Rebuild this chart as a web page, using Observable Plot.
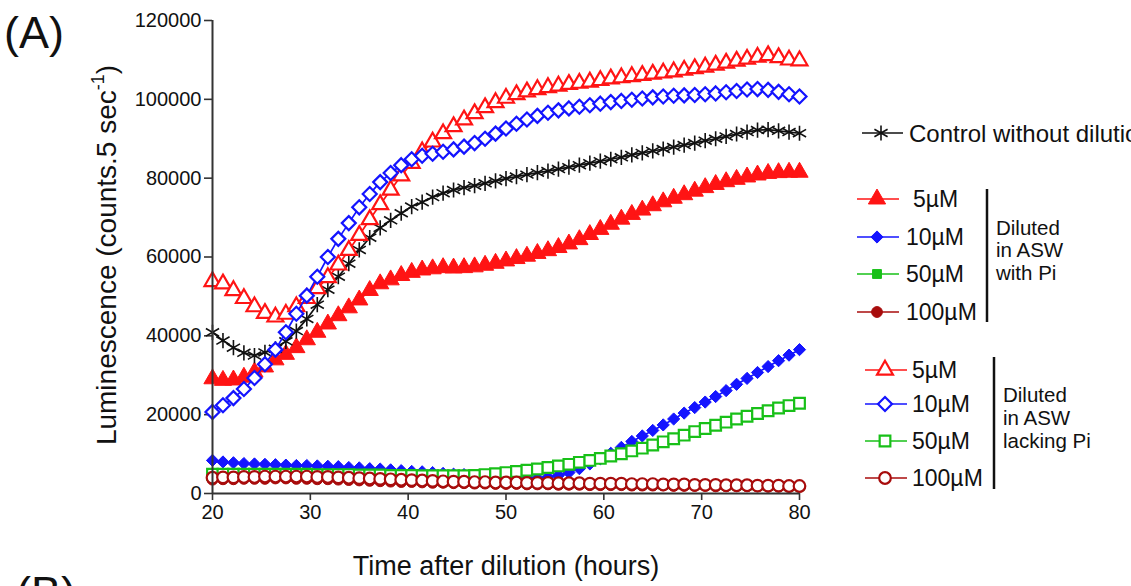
<!DOCTYPE html>
<html>
<head>
<meta charset="utf-8">
<script src="https://cdn.jsdelivr.net/npm/d3@7"></script>
<script src="https://cdn.jsdelivr.net/npm/@observablehq/plot@0.6"></script>
<style>
  body { margin: 0; background: #fff; }
  svg { display: block; }
</style>
</head>
<body>
<div id="chart"></div>
<script>
// Sampling times (hours after dilution)
const hours = [20, 21.07, 22.14, 23.21, 24.29, 25.36, 26.43, 27.5, 28.57, 29.64,
  30.71, 31.79, 32.86, 33.93, 35, 36.07, 37.14, 38.21, 39.29, 40.36,
  41.43, 42.5, 43.57, 44.64, 45.71, 46.79, 47.86, 48.93, 50, 51.07,
  52.14, 53.21, 54.29, 55.36, 56.43, 57.5, 58.57, 59.64, 60.71, 61.79,
  62.86, 63.93, 65, 66.07, 67.14, 68.21, 69.29, 70.36, 71.43, 72.5,
  73.57, 74.64, 75.71, 76.79, 77.86, 78.93, 80];

// Luminescence (counts.5 sec-1)
const control = [40900, 38800, 37000, 35700, 35000, 35800, 36700, 38600, 41200, 44300,
  47900, 51700, 55000, 58300, 61800, 64900, 67400, 69300, 71100, 72800,
  73900, 75200, 76200, 77000, 77600, 78100, 78700, 79300, 79900, 80400,
  80900, 81400, 81800, 82300, 82800, 83300, 83800, 84300, 84800, 85300,
  85900, 86400, 86900, 87400, 87900, 88400, 88900, 89500, 90000, 90600,
  91200, 91700, 92200, 92300, 92000, 91700, 91400];

const withPi5 = [29100, 28700, 28800, 29500, 30800, 32100, 33900, 35300, 37000, 39000,
  40900, 43000, 45100, 47100, 49100, 51500, 53200, 54200, 55300, 56100,
  56700, 57000, 57300, 57200, 57300, 57500, 57900, 58400, 59000, 59600,
  60200, 60900, 61600, 62400, 63300, 64400, 65700, 67000, 68300, 69600,
  70800, 71900, 73000, 74000, 74900, 75800, 76700, 77600, 78400, 79100,
  79700, 80300, 80800, 81200, 81400, 81500, 81500];

const withPi10 = [8400, 8000, 7800, 7600, 7500, 7400, 7300, 7200, 7100, 7100,
  7000, 6900, 6800, 6600, 6500, 6300, 6200, 6000, 5800, 5600,
  5500, 5300, 5100, 4900, 4800, 4600, 4500, 4300, 4100, 4000,
  3900, 3900, 4100, 4600, 5300, 6300, 7500, 8800, 10200, 11700,
  13200, 14600, 16000, 17400, 18900, 20400, 21800, 23200, 24600, 26100,
  27700, 29200, 30700, 32200, 33700, 35100, 36500];

const withPi50 = [4300, 4300, 4300, 4300, 4300, 4300, 4300, 4300, 4200, 4200,
  4100, 4100, 4000, 3900, 3800, 3700, 3600, 3500, 3400, 3300,
  3200, 3100, 3000, 2900, 2900, 2800, 2800, 2700, 2700, 2700,
  2600, 2600, 2600, 2500, 2500, 2500, 2400, 2400, 2400, 2400,
  2300, 2300, 2300, 2200, 2200, 2200, 2100, 2100, 2100, 2000,
  2000, 2000, 1900, 1900, 1900, 1800, 1800];

const withPi100 = [3500, 3600, 3600, 3700, 3700, 3700, 3800, 3800, 3700, 3700,
  3600, 3600, 3500, 3400, 3300, 3200, 3100, 3000, 2900, 2900,
  2800, 2700, 2700, 2600, 2600, 2500, 2500, 2400, 2400, 2400,
  2300, 2300, 2300, 2200, 2200, 2200, 2100, 2100, 2100, 2100,
  2000, 2000, 2000, 2000, 1900, 1900, 1900, 1900, 1800, 1800,
  1800, 1800, 1800, 1700, 1700, 1700, 1700];

const lackingPi5 = [53800, 53200, 51500, 49500, 47400, 45700, 44800, 45500, 47400, 49500,
  52000, 54800, 58000, 61700, 65500, 69500, 73300, 77000, 80600, 83800,
  86700, 89200, 91300, 93100, 94800, 96400, 97900, 99200, 100300, 101200,
  101900, 102500, 103000, 103400, 103800, 104100, 104400, 104800, 105200, 105500,
  105800, 106100, 106400, 106700, 107000, 107400, 107800, 108200, 108700, 109200,
  109700, 110200, 110700, 111100, 110600, 110000, 109800];

const lackingPi10 = [20700, 22400, 24200, 26500, 29300, 32800, 36500, 40900, 45600, 50200,
  55000, 60000, 64600, 68600, 72600, 76000, 79000, 81300, 83300, 84800,
  85700, 86200, 86700, 87300, 88000, 88900, 90000, 91300, 92600, 93800,
  94900, 95800, 96600, 97200, 97700, 98100, 98500, 98900, 99300, 99600,
  99900, 100200, 100500, 100700, 100900, 101000, 101100, 101300, 101500, 101800,
  102100, 102500, 102600, 102400, 101900, 101300, 100700];

const lackingPi50 = [4900, 4900, 4900, 4900, 4900, 4900, 4900, 4900, 4900, 4900,
  4800, 4800, 4800, 4800, 4700, 4700, 4700, 4600, 4600, 4600,
  4500, 4500, 4500, 4500, 4500, 4600, 4800, 5000, 5300, 5600,
  5900, 6200, 6600, 7000, 7400, 7900, 8400, 8900, 9500, 10100,
  10800, 11500, 12300, 13100, 13900, 14800, 15700, 16500, 17300, 18100,
  18900, 19600, 20300, 21000, 21700, 22300, 22900];

const lackingPi100 = [4000, 4100, 4100, 4200, 4200, 4300, 4300, 4300, 4300, 4300,
  4200, 4200, 4100, 4000, 3900, 3800, 3700, 3600, 3500, 3400,
  3300, 3200, 3100, 3000, 3000, 2900, 2900, 2800, 2800, 2800,
  2700, 2700, 2700, 2600, 2600, 2600, 2500, 2500, 2500, 2500,
  2400, 2400, 2400, 2300, 2300, 2300, 2200, 2200, 2200, 2100,
  2100, 2100, 2000, 2000, 2000, 1900, 1900];

const concentrations = ["5µM", "10µM", "50µM", "100µM"];
const controlLabel = "Control without dilution";
const withPiNote = ["Diluted", "in ASW", "with Pi"];
const lackingPiNote = ["Diluted", "in ASW", "lacking Pi"];
const xTicks = [20, 30, 40, 50, 60, 70, 80];
const yTicks = [0, 20000, 40000, 60000, 80000, 100000, 120000];

// Styling
const RED = "#ff1414", BLUE = "#1414ff", GREEN = "#18c018", MAROON = "#a80c0c", INK = "#111";
const FONT = "'Liberation Sans', Arial, Helvetica, sans-serif";
const symbols = {
  asterisk: d3.symbolAsterisk, triangle: d3.symbolTriangle, triangle2: d3.symbolTriangle2,
  diamond2: d3.symbolDiamond2, square: d3.symbolSquare, square2: d3.symbolSquare2, circle: d3.symbolCircle
};

const control_s = {values: control, color: INK, symbol: "asterisk", r: 7.2, open: false, sw: 1.6};
const withPi = [
  {values: withPi5, color: RED, symbol: "triangle", r: 6.4},
  {values: withPi10, color: BLUE, symbol: "diamond2", r: 5.5},
  {values: withPi50, color: GREEN, symbol: "square", r: 5.0},
  {values: withPi100, color: MAROON, symbol: "circle", r: 5.4}
].map(s => ({...s, open: false, sw: 1}));
const lackingPi = [
  {values: lackingPi5, color: RED, symbol: "triangle2", r: 7.6},
  {values: lackingPi10, color: BLUE, symbol: "diamond2", r: 6.3},
  {values: lackingPi50, color: GREEN, symbol: "square2", r: 6.8},
  {values: lackingPi100, color: MAROON, symbol: "circle", r: 5.8}
].map(s => ({...s, open: true, sw: 2.2}));

// Draw order: filled series, control, then open series on top
const drawOrder = [withPi[2], withPi[3], withPi[0], withPi[1], control_s,
  lackingPi[2], lackingPi[0], lackingPi[1], lackingPi[3]];

const rowsOf = s => hours.map((t, i) => ({t, v: s.values[i]}));

const marks = [];
for (const s of drawOrder) {
  const rows = rowsOf(s);
  marks.push(Plot.line(rows, {x: "t", y: "v", stroke: s.color, strokeWidth: 1.7}));
  marks.push(Plot.dot(rows, {
    x: "t", y: "v", symbol: symbols[s.symbol], r: s.r,
    fill: s.symbol === "asterisk" ? "none" : (s.open ? "white" : s.color),
    stroke: s.color, strokeWidth: s.sw
  }));
}

const AXIS = "#333";
const chart = Plot.plot({
  width: 1131,
  height: 586,
  marginLeft: 212,
  marginRight: 332,
  marginTop: 20,
  marginBottom: 93,
  style: {fontFamily: FONT, fontSize: "20px", color: INK, background: "white", overflow: "hidden"},
  x: {domain: [20, 80]},
  y: {domain: [0, 120000]},
  marks: [
    Plot.axisX(xTicks, {tickSize: 7, tickPadding: 4, stroke: AXIS, strokeWidth: 1.6, label: null, fontSize: 20, fill: INK}),
    Plot.axisY(yTicks, {tickSize: 8, tickPadding: 3, stroke: AXIS, strokeWidth: 1.6, label: null, fontSize: 20, fill: INK,
      tickFormat: d => String(d)}),
    ...marks,
    Plot.ruleX([20], {y1: 0, y2: 120000, stroke: AXIS, strokeWidth: 2}),
    Plot.ruleY([0], {x1: 20, x2: 80, stroke: AXIS, strokeWidth: 2})
  ]
});
document.getElementById("chart").appendChild(chart);

// Panel letters, axis titles and the legend
const svg = d3.select(chart);
const addText = (x, y, size, label) => svg.append("text").attr("x", x).attr("y", y)
  .attr("text-anchor", "start").attr("font-size", size).attr("fill", INK).text(label);

addText(4, 48, 45, "(A)");
addText(16, 608, 45, "(B)");

svg.append("text").attr("x", 506).attr("y", 575).attr("text-anchor", "middle")
  .attr("font-size", 27).attr("fill", INK).text("Time after dilution (hours)");

const yTitle = svg.append("text").attr("transform", "translate(116,255) rotate(-90)")
  .attr("text-anchor", "middle").attr("font-size", 28).attr("fill", INK);
yTitle.append("tspan").text("Luminescence (counts.5 sec");
yTitle.append("tspan").attr("font-size", 18).attr("dy", -12).text("-1");
yTitle.append("tspan").attr("dy", 12).text(")");

const symPath = s => d3.symbol(symbols[s.symbol], Math.PI * s.r * s.r)();
function legendRow(s, x1, x2, xm, y, label, xt, fs) {
  svg.append("line").attr("x1", x1).attr("x2", x2).attr("y1", y).attr("y2", y)
    .attr("stroke", s.color).attr("stroke-width", 1.6);
  svg.append("path").attr("d", symPath(s)).attr("transform", `translate(${xm},${y})`)
    .attr("fill", s.symbol === "asterisk" ? "none" : (s.open ? "white" : s.color))
    .attr("stroke", s.color).attr("stroke-width", s.sw);
  addText(xt, y, fs, label).attr("dy", "0.36em");
}

legendRow(control_s, 862, 903, 881, 133, controlLabel, 909, 24);

const withRows = [199, 237, 274, 312];
withPi.forEach((s, i) => legendRow(s, 857, 899, 877, withRows[i], concentrations[i], i === 0 ? 913 : 906, 23));
svg.append("line").attr("x1", 987).attr("x2", 987).attr("y1", 189).attr("y2", 322)
  .attr("stroke", INK).attr("stroke-width", 2.5);
[228, 250, 273].forEach((y, i) => addText(996, y, 20.5, withPiNote[i]).attr("dy", "0.36em"));

const lackRows = [370, 404, 441, 478];
lackingPi.forEach((s, i) => legendRow(s, 865, 907, 885, lackRows[i], concentrations[i], 912, 23));
svg.append("line").attr("x1", 994).attr("x2", 994).attr("y1", 357).attr("y2", 489)
  .attr("stroke", INK).attr("stroke-width", 2.5);
[395, 418, 441].forEach((y, i) => addText(1003, y, 20.5, lackingPiNote[i]).attr("dy", "0.36em"));
</script>
</body>
</html>
